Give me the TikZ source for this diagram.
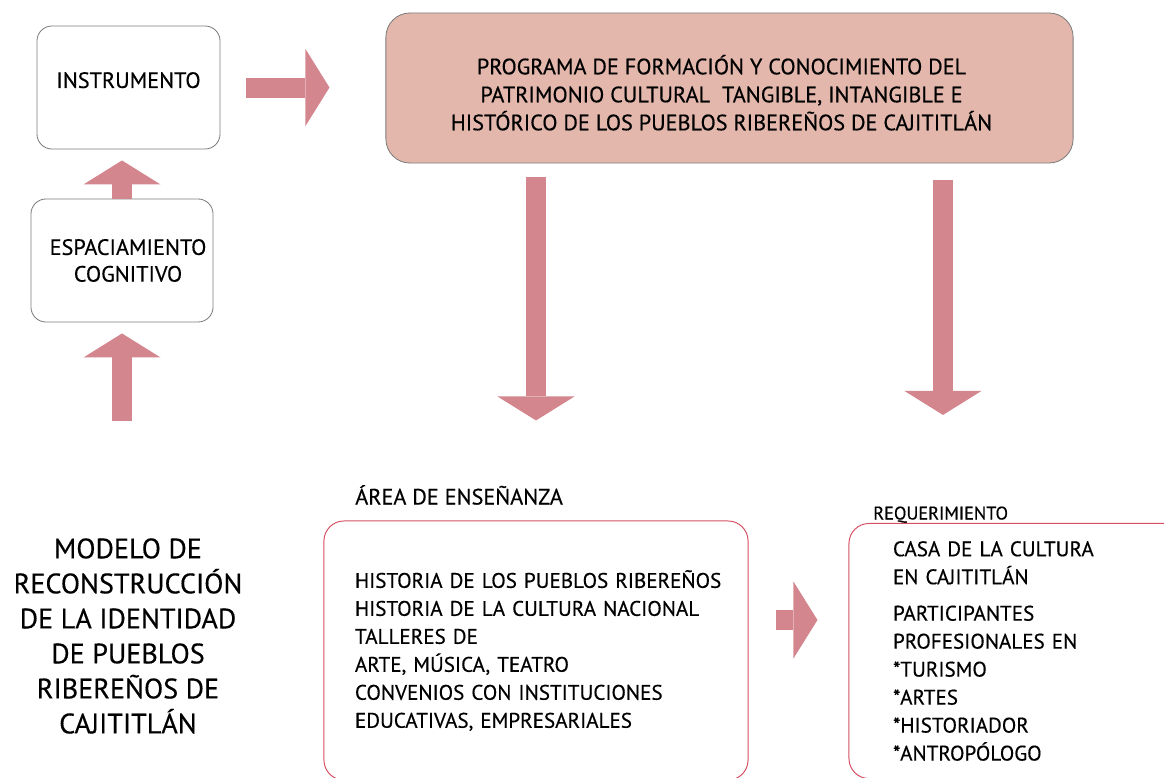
\documentclass[tikz,border=0pt]{standalone}
\usepackage{fontspec}
\setmainfont{PT Sans}[FakeBold=0.4]
\usepackage{tikz}
\usetikzlibrary{arrows.meta, positioning, calc}

\definecolor{flecha}{RGB}{212,134,143}
\definecolor{salmon}{RGB}{227,183,172}
\definecolor{borde}{RGB}{214,80,98}
\definecolor{gris}{RGB}{125,125,125}

\begin{document}
\begin{tikzpicture}[x=0.025cm, y=-0.025cm,
        caja/.style={rectangle, draw=gris, line width=0.6pt, rounded corners=0.375cm, inner sep=0pt, align=center, font=\fontsize{15.8}{19}\selectfont},
        programa/.style={caja, fill=salmon, rounded corners=0.6cm, font=\fontsize{15.8}{19.9}\selectfont},
        marco/.style={rectangle, draw=borde, line width=0.7pt, rounded corners=0.5cm, inner ysep=0pt, align=left, font=\fontsize{15}{19.9}\selectfont},
        etiqueta/.style={inner sep=0pt, anchor=base west},
        flecha/.style={draw=flecha, line width=0.5cm, -{Triangle[length=0.6cm, width=1.925cm, line width=0pt]}}]

        \useasboundingbox (0,0) rectangle (1164,777);
        \clip (0,0) rectangle (1164,777);

        \node [caja, minimum width=4.575cm, minimum height=3.075cm, text depth=10.6pt] (instr) at (128.5,87.5) {INSTRUMENTO};
        \node [caja, minimum width=4.55cm, minimum height=3.075cm] (espacio) at (122,260.5) {\hspace*{0.3cm}ESPACIAMIENTO\\\hspace*{0.3cm}COGNITIVO};
        \node [programa, minimum width=17.175cm, minimum height=3.75cm] (prog) at (729.5,88) {
            \hspace*{-0.4cm}\rule{0pt}{20.5pt}PROGRAMA DE FORMACIÓN Y CONOCIMIENTO DEL\\
            \hspace*{-0.4cm}PATRIMONIO CULTURAL\ \ TANGIBLE, INTANGIBLE E\\
            \hspace*{-0.4cm}HISTÓRICO DE LOS PUEBLOS RIBEREÑOS DE CAJITITLÁN};

        \node [align=center, inner sep=0pt, font=\fontsize{20}{24.9}\selectfont] (modelo) at (128,636) {
            MODELO DE\\RECONSTRUCCIÓN\\DE LA IDENTIDAD\\DE PUEBLOS\\RIBEREÑOS DE\\CAJITITLÁN};

        \node [etiqueta, font=\fontsize{15.8}{18}\selectfont] (etqarea) at (355,504.5) {ÁREA DE ENSEÑANZA};
        \node [etiqueta, font=\fontsize{13}{15}\selectfont] (etqreq) at (873,519.5) {REQUERIMIENTO};

        \node [marco, minimum width=10.6cm, minimum height=6.475cm, inner xsep=0.775cm, text width=9.05cm] (area) at (536,650.5) {
            \mbox{HISTORIA DE LOS PUEBLOS RIBEREÑOS}\\
            HISTORIA DE LA CULTURA NACIONAL\\
            TALLERES DE\\
            ARTE, MÚSICA, TEATRO\\
            CONVENIOS CON INSTITUCIONES\\
            EDUCATIVAS, EMPRESARIALES};
        \node [marco, minimum width=8.775cm, minimum height=6.375cm, inner xsep=1.1cm, text width=6.575cm] (req) at (1024.5,651) {
            CASA DE LA CULTURA\\
            EN CAJITITLÁN\\[6pt]
            PARTICIPANTES\\
            PROFESIONALES EN\\
            {*}TURISMO\\
            {*}ARTES\\
            {*}HISTORIADOR\\
            {*}ANTROPÓLOGO};

        % Puntos libres de las flechas
        \coordinate (pie) at ($(espacio.south)+(0,99)$);
        \coordinate (reqin) at ($(req.north west)+(94.5,0)$);
        \coordinate (medio) at (0,620);

        % Flechas
        \draw [flecha, shorten <=0.65cm, shorten >=1.4cm] (instr.east) -- (instr.east -| prog.west);
        \draw [flecha, shorten >=0.275cm] (espacio.north) -- (espacio.north |- instr.south);
        \draw [flecha, shorten >=0.275cm] (pie) -- (espacio.south);
        \draw [flecha, shorten <=0.35cm, shorten >=2.5cm] (prog.south -| area.north) -- (area.north);
        \draw [flecha, shorten <=0.425cm, shorten >=2.7cm] (prog.south -| reqin) -- (reqin);
        \draw [flecha, shorten <=0.675cm, shorten >=0.775cm] (area.east |- medio) -- (req.west |- medio);

    \end{tikzpicture}
\end{document}
